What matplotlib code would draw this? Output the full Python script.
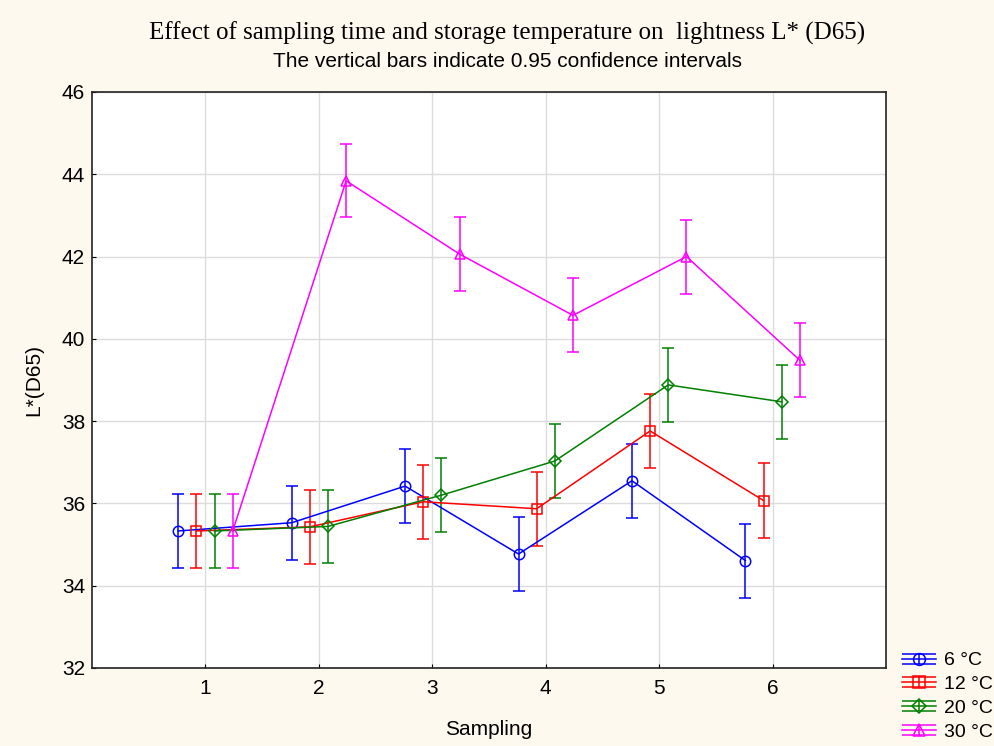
import matplotlib.pyplot as plt
from matplotlib.path import Path
from matplotlib.lines import Line2D

samplings = [1, 2, 3, 4, 5, 6]
labels = ['6 °C', '12 °C', '20 °C', '30 °C']

l_6 = [35.33, 35.53, 36.42, 34.77, 36.55, 34.61]
l_12 = [35.33, 35.43, 36.04, 35.87, 37.76, 36.07]
l_20 = [35.33, 35.44, 36.20, 37.03, 38.88, 38.47]
l_30 = [35.33, 43.84, 42.06, 40.57, 42.00, 39.48]

ci_6 = [0.90, 0.90, 0.90, 0.90, 0.90, 0.90]
ci_12 = [0.90, 0.90, 0.90, 0.90, 0.90, 0.90]
ci_20 = [0.90, 0.89, 0.90, 0.90, 0.90, 0.90]
ci_30 = [0.90, 0.89, 0.89, 0.90, 0.90, 0.90]

means = [l_6, l_12, l_20, l_30]
cis = [ci_6, ci_12, ci_20, ci_30]
colors = ['#0000ff', '#ff0000', '#008000', '#ff00ff']
markers = ['o', 's', 'D', '^']
offsets = [-0.24, -0.08, 0.08, 0.24]

plt.rcParams['font.family'] = ['Liberation Sans', 'DejaVu Sans']

fig = plt.figure(figsize=(9.95, 7.46), dpi=100, facecolor='#fef9ef')
ax = fig.add_axes([0.0925, 0.1046, 0.798, 0.7721])
ax.set_facecolor('white')

for m, c, col, mk, off in zip(means, cis, colors, markers, offsets):
    xs = [s + off for s in samplings]
    ax.errorbar(xs, m, yerr=c, color=col, marker=mk, markersize=7.5 if mk != 'D' else 6,
                markerfacecolor='none', markeredgecolor=col, markeredgewidth=1.1,
                lw=1.1, elinewidth=1.1, capsize=4, capthick=1.1)

ax.set_xlim(0, 7)
ax.set_ylim(32, 46)
ax.set_xticks(samplings)
ax.set_yticks(range(32, 47, 2))
ax.grid(True, color='#dcdcdc', lw=1)
ax.set_axisbelow(True)
ax.tick_params(direction='in', length=3, labelsize=15)
ax.tick_params(axis='y', pad=5)
ax.tick_params(axis='x', pad=8)
for sp in ax.spines.values():
    sp.set_color('#222222')
    sp.set_linewidth(1.2)

ax.set_xlabel('Sampling', fontsize=15, labelpad=16)
ax.set_ylabel('L*(D65)', fontsize=15, labelpad=13)

fig.text(0.51, 0.955, 'Effect of sampling time and storage temperature on  lightness L* (D65)',
         ha='center', va='center', fontsize=18, family='Liberation Serif')
fig.text(0.51, 0.917, 'The vertical bars indicate 0.95 confidence intervals',
         ha='center', va='center', fontsize=15)

# legend handles: line + marker with horizontal cap lines above and below
cap_path = Path([(-1, 0.32), (1, 0.32), (-1, -0.32), (1, -0.32), (0, -0.32), (0, 0.32)],
                [Path.MOVETO, Path.LINETO, Path.MOVETO, Path.LINETO, Path.MOVETO, Path.LINETO])
handles = []
for col, mk in zip(colors, markers):
    caps = Line2D([], [], color=col, marker=cap_path, markersize=24, linestyle='none',
                  markerfacecolor='none', markeredgecolor=col, markeredgewidth=1.1)
    main = Line2D([], [], color=col, marker=mk, markersize=8.5 if mk != 'D' else 7, lw=1.1,
                  markerfacecolor='none', markeredgecolor=col, markeredgewidth=1.1)
    handles.append((caps, main))

ax.legend(handles, labels, loc='lower left', bbox_to_anchor=(1.01, -0.14), frameon=False,
          fontsize=14, handlelength=1.75, handletextpad=0.4, labelspacing=0.32, borderaxespad=0)

fig.savefig('out.png', dpi=100, facecolor=fig.get_facecolor())
